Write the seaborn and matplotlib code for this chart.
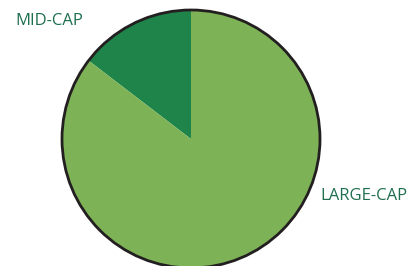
import matplotlib
matplotlib.use("Agg")
import matplotlib.pyplot as plt
import seaborn as sns

# Datos
categorias = ["MID-CAP", "LARGE-CAP"]
valores = [14.6, 85.4]
colores = ["#1F844A", "#7DB356"]

sns.set_theme(style="white")
plt.rcParams['font.family'] = ['Open Sans', 'DejaVu Sans']

fig = plt.figure(figsize=(4.11, 2.66), dpi=100)
ax = fig.add_axes([0, 0, 1, 1])

centro = (191, 127)
radio = 129
ax.pie(valores, colors=colores, startangle=90, counterclock=True,
       center=centro, radius=radio, frame=True,
       wedgeprops=dict(linewidth=0))
ax.add_patch(plt.Circle(centro, radio, fill=False, edgecolor='#231F20', linewidth=2))
ax.set_xlim(0, 411)
ax.set_ylim(0, 266)
ax.set_aspect('equal')
ax.axis('off')

ax.text(15, 245, categorias[0], color='#1E6F4E', fontsize=12, va='center', ha='left')
ax.text(320, 70, categorias[1], color='#1E6F4E', fontsize=12, va='center', ha='left')

fig.savefig('out.png', dpi=100)
